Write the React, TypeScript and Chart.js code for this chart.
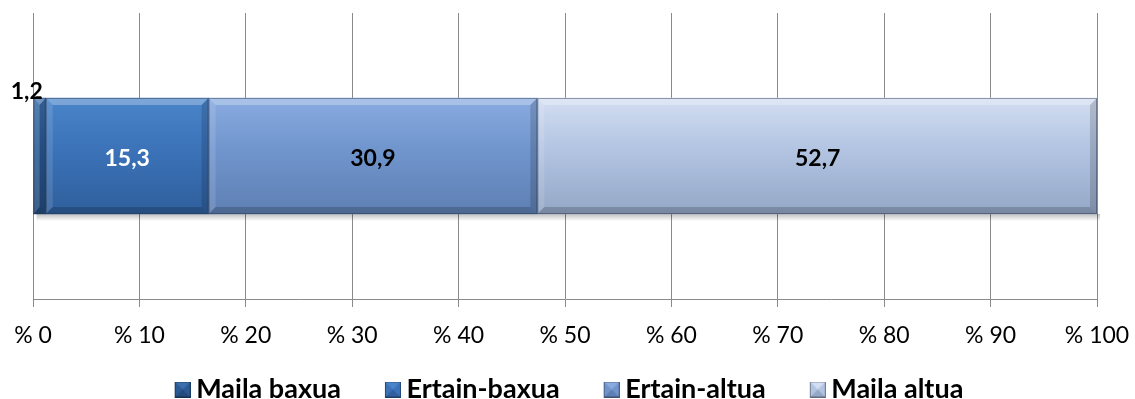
import React, { useEffect, useRef } from "react";
import { Chart, registerables } from "chart.js";

Chart.register(...registerables);

const categories = [""];
const seriesNames = ["Maila baxua", "Ertain-baxua", "Ertain-altua", "Maila altua"];
const seriesValues = [1.2, 15.3, 30.9, 52.7];
const valueLabels = ["1,2", "15,3", "30,9", "52,7"];
const tickValues = [0, 10, 20, 30, 40, 50, 60, 70, 80, 90, 100];
const tickPrefix = "% ";

const baseColors = ["#2b5b95", "#3b72b8", "#7095cd", "#b2c4e2"];
const topColors = ["#3d6fab", "#4a85c9", "#89abe0", "#d2def1"];
const bottomColors = ["#234b7d", "#2f5f9c", "#5e7fb3", "#94a7c6"];
const labelColors = ["#000000", "#ffffff", "#000000", "#000000"];

const FONT = "Lato, 'Open Sans', sans-serif";

function makeIcon(i: number): HTMLCanvasElement {
  const c = document.createElement("canvas");
  const s = 16;
  c.width = 32;
  c.height = s;
  const g = c.getContext("2d")!;
  g.translate(16, 0);
  g.fillStyle = baseColors[i];
  g.fillRect(0, 0, s, s);
  g.fillStyle = topColors[i];
  g.beginPath();
  g.moveTo(0, 0);
  g.lineTo(s, 0);
  g.lineTo(s / 2, s / 2);
  g.closePath();
  g.fill();
  g.fillStyle = bottomColors[i];
  g.beginPath();
  g.moveTo(0, s);
  g.lineTo(s, s);
  g.lineTo(s / 2, s / 2);
  g.closePath();
  g.fill();
  g.strokeStyle = "rgba(0,0,0,0.35)";
  g.strokeRect(0.5, 0.5, s - 1, s - 1);
  return c;
}

const bevelPlugin = {
  id: "bevel",
  beforeDatasetsDraw(chart: any) {
    const ctx = chart.ctx;
    const metas = chart.getSortedVisibleDatasetMetas();
    if (!metas.length) return;
    const first = metas[0].data[0] as any;
    const last = metas[metas.length - 1].data[0] as any;
    if (!first || !last) return;
    const half = first.height / 2;
    const bottom = first.y + half;
    const left = Math.min(first.base, first.x);
    const right = Math.min(Math.max(last.x, last.base), chart.chartArea.right);
    ctx.save();
    const gr = ctx.createLinearGradient(0, bottom, 0, bottom + 7);
    gr.addColorStop(0, "rgba(0,0,0,0.25)");
    gr.addColorStop(1, "rgba(0,0,0,0)");
    ctx.fillStyle = gr;
    ctx.fillRect(left + 3, bottom, right - left, 7);
    ctx.restore();
  },
  afterDatasetsDraw(chart: any) {
    const ctx = chart.ctx;
    const metas = chart.getSortedVisibleDatasetMetas();
    ctx.save();
    metas.forEach((meta: any) => {
      const el = meta.data[0];
      if (!el) return;
      const x0 = Math.min(el.base, el.x);
      const x1 = Math.min(Math.max(el.base, el.x), chart.chartArea.right);
      const half = el.height / 2;
      const y0 = el.y - half;
      const y1 = el.y + half;
      const b = Math.min(7, (x1 - x0) / 2);
      ctx.fillStyle = "rgba(255,255,255,0.28)";
      ctx.beginPath();
      ctx.moveTo(x0, y0);
      ctx.lineTo(x1, y0);
      ctx.lineTo(x1 - b, y0 + 7);
      ctx.lineTo(x0 + b, y0 + 7);
      ctx.closePath();
      ctx.fill();
      ctx.fillStyle = "rgba(255,255,255,0.12)";
      ctx.beginPath();
      ctx.moveTo(x0, y0);
      ctx.lineTo(x0 + b, y0 + 7);
      ctx.lineTo(x0 + b, y1 - 7);
      ctx.lineTo(x0, y1);
      ctx.closePath();
      ctx.fill();
      ctx.fillStyle = "rgba(0,0,0,0.18)";
      ctx.beginPath();
      ctx.moveTo(x0, y1);
      ctx.lineTo(x1, y1);
      ctx.lineTo(x1 - b, y1 - 7);
      ctx.lineTo(x0 + b, y1 - 7);
      ctx.closePath();
      ctx.fill();
      ctx.fillStyle = "rgba(0,0,0,0.15)";
      ctx.beginPath();
      ctx.moveTo(x1, y0);
      ctx.lineTo(x1 - b, y0 + 7);
      ctx.lineTo(x1 - b, y1 - 7);
      ctx.lineTo(x1, y1);
      ctx.closePath();
      ctx.fill();
      ctx.strokeStyle = "rgba(40,50,70,0.45)";
      ctx.lineWidth = 1;
      ctx.strokeRect(x0 + 0.5, y0 + 0.5, x1 - x0 - 1, y1 - y0 - 1);
    });
    ctx.restore();
  },
};

const labelPlugin = {
  id: "valueLabels",
  afterDatasetsDraw(chart: any) {
    const ctx = chart.ctx;
    ctx.save();
    ctx.font = `bold 23px ${FONT}`;
    chart.getSortedVisibleDatasetMetas().forEach((meta: any) => {
      const i = meta.index;
      const el = meta.data[0];
      if (!el) return;
      const half = el.height / 2;
      ctx.fillStyle = labelColors[i];
      if (i === 0) {
        ctx.textAlign = "right";
        ctx.textBaseline = "bottom";
        ctx.fillText(valueLabels[i], el.x - 3, el.y - half + 5);
      } else {
        ctx.textAlign = "center";
        ctx.textBaseline = "middle";
        ctx.fillText(valueLabels[i], (el.x + el.base) / 2, el.y + 3);
      }
    });
    ctx.restore();
  },
};

export default function App() {
  const ref = useRef<HTMLCanvasElement | null>(null);

  useEffect(() => {
    document.body.style.margin = "0";
    const canvas = ref.current;
    if (!canvas) return;
    const icons = seriesNames.map((_, i) => makeIcon(i));

    const datasets = seriesNames.map((name, i) => ({
      label: name,
      data: [seriesValues[i]],
      backgroundColor: (c: any) => {
        const chart = c.chart;
        if (!chart.chartArea) return baseColors[i];
        const yc = chart.scales.y.getPixelForValue(0);
        const g = chart.ctx.createLinearGradient(0, yc - 58, 0, yc + 58);
        g.addColorStop(0, topColors[i]);
        g.addColorStop(0.45, baseColors[i]);
        g.addColorStop(1, bottomColors[i]);
        return g;
      },
      borderWidth: 0,
      barThickness: 116,
      pointStyle: icons[i],
    }));

    const chart = new Chart(canvas, {
      type: "bar",
      data: { labels: categories, datasets },
      options: {
        indexAxis: "y",
        animation: false,
        responsive: false,
        maintainAspectRatio: false,
        layout: { padding: { top: 13, left: 33, right: 38, bottom: -14 } },
        plugins: {
          legend: {
            position: "bottom",
            labels: {
              usePointStyle: true,
              boxWidth: 16,
              boxHeight: 16,
              pointStyleWidth: 16,
              padding: 36,
              color: "#000",
              font: { family: FONT, size: 27, weight: "bold" },
            },
          },
          tooltip: { enabled: false },
        },
        scales: {
          x: {
            stacked: true,
            min: 0,
            max: 100,
            afterBuildTicks: (axis: any) => {
              axis.ticks = tickValues.map((v) => ({ value: v }));
            },
            afterFit: (axis: any) => {
              axis.height = 41;
              axis.paddingLeft = 0;
              axis.paddingRight = 0;
              axis._computeLabelArea = () => undefined;
            },
            ticks: {
              color: "#000",
              padding: 15,
              font: { family: FONT, size: 23 },
              callback: (v: any) => tickPrefix + v,
              maxRotation: 0,
            },
            grid: { color: "#8a8a8a", lineWidth: 1, tickLength: 8, drawTicks: true },
            border: { display: true, color: "#8a8a8a" },
          },
          y: {
            stacked: true,
            display: false,
          },
        },
      },
      plugins: [bevelPlugin, labelPlugin],
    });
    return () => chart.destroy();
  }, []);

  return <canvas ref={ref} width={1135} height={399} style={{ display: "block" }} />;
}
